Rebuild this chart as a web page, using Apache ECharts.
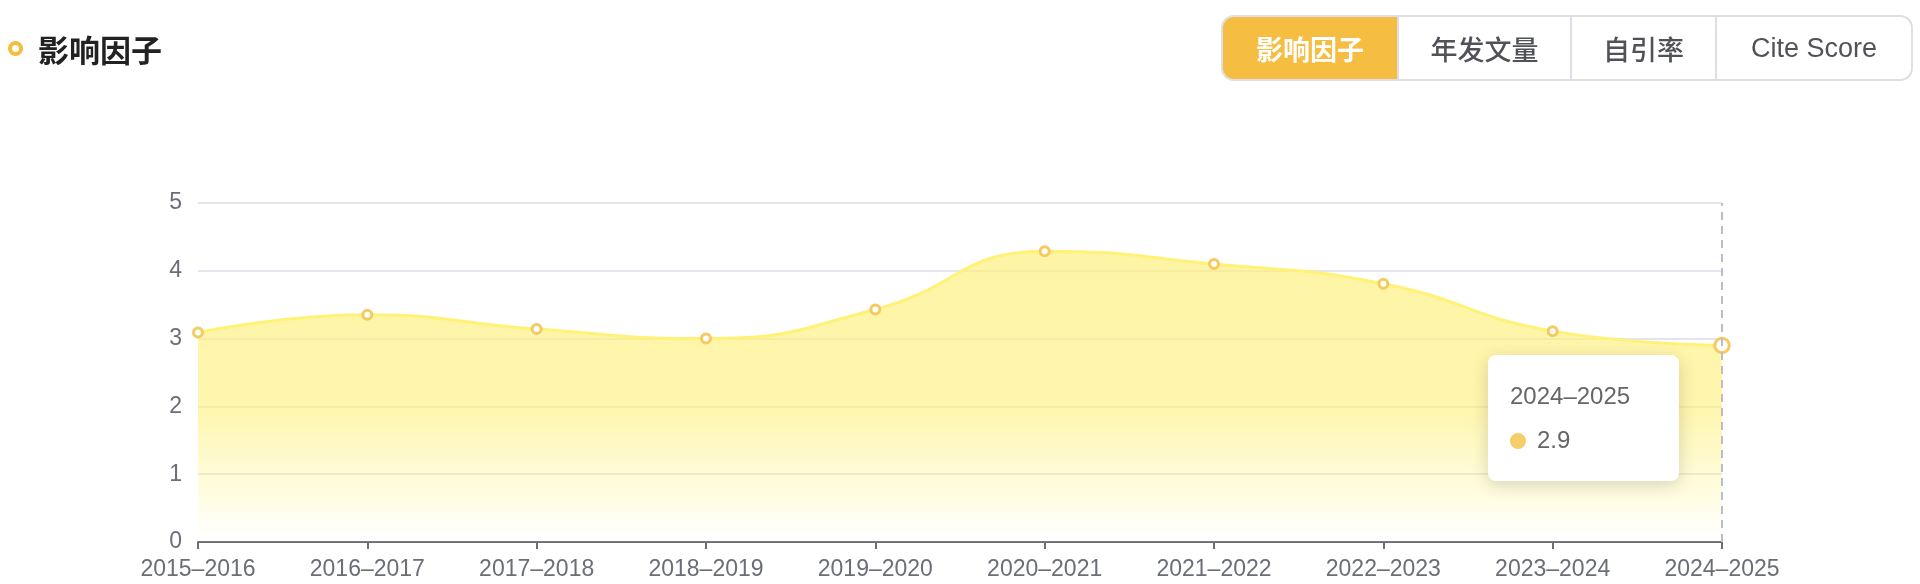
<!DOCTYPE html>
<html>
<head>
<meta charset="utf-8">
<script src="https://cdn.jsdelivr.net/npm/echarts@6/dist/echarts.min.js"></script>
<style>
  html, body { margin: 0; padding: 0; background: #fff; }
  #wrap { position: relative; width: 1920px; height: 584px; overflow: hidden; }
  #chart { position: absolute; left: 0; top: 0; width: 1920px; height: 584px; }
  #title { position: absolute; left: 8px; top: 26px; height: 44px; display: flex; align-items: center;
    font-family: "Noto Sans CJK SC", sans-serif; font-weight: 700; font-size: 31px; color: #222; }
  #title .dot { width: 7px; height: 7px; border: 4px solid #f5bc3e; border-radius: 50%; margin-right: 15px; }
  #tabs { position: absolute; left: 1221px; top: 15px; height: 66px; display: flex;
    border: 2px solid #dedee6; border-radius: 13px; overflow: hidden; box-sizing: border-box; }
  #tabs div { display: flex; align-items: center; justify-content: center; font-size: 27px; color: #505258;
    font-family: "Noto Sans CJK SC", sans-serif; font-weight: 500; border-left: 2px solid #dedee6; box-sizing: border-box; }
  #tabs div.en { font-family: "Liberation Sans", Arial, sans-serif; font-size: 27px; }
  #tabs div:first-child { border-left: none; background: #f5bd42; color: #fff; font-weight: 700; }
</style>
</head>
<body>
<div id="wrap">
  <div id="chart"></div>
  <div id="title"><span class="dot"></span>影响因子</div>
  <div id="tabs">
    <div style="width:174px">影响因子</div>
    <div style="width:173px">年发文量</div>
    <div style="width:145px">自引率</div>
    <div class="en" style="width:196px">Cite Score</div>
  </div>
</div>
<script>
const categories = ['2015–2016','2016–2017','2017–2018','2018–2019','2019–2020','2020–2021','2021–2022','2022–2023','2023–2024','2024–2025'];
const impactFactor = [3.09, 3.35, 3.14, 3.0, 3.43, 4.29, 4.1, 3.81, 3.11, 2.9];
const yTicks = { min: 0, max: 5, interval: 1 };

const chart = echarts.init(document.getElementById('chart'));
chart.setOption({
  animation: false,
  grid: { left: 198, right: 198, top: 203, bottom: 42, containLabel: false },
  tooltip: {
    trigger: 'axis',
    alwaysShowContent: true,
    backgroundColor: '#fff',
    borderWidth: 0,
    padding: [24, 22, 24, 22],
    extraCssText: 'border-radius:8px;box-shadow:0 4px 18px rgba(0,0,0,0.16);width:147px;',
    textStyle: { color: '#666', fontSize: 24 },
    axisPointer: { type: 'line', lineStyle: { color: '#b9bdcc', width: 2, type: [8, 6] } },
    position: function (pt) { return [pt[0] - 234, pt[1] + 10]; },
    formatter: function (params) {
      const p = params[0];
      return '<div style="font-family:Liberation Sans,Arial,sans-serif;font-size:24px;color:#666;line-height:34px">' + p.name +
        '</div><div style="font-family:Liberation Sans,Arial,sans-serif;font-size:24px;color:#666;line-height:34px;margin-top:10px">' +
        '<span style="display:inline-block;width:16px;height:16px;border-radius:50%;background:#f5cd6a;margin-right:11px;vertical-align:-1px"></span>' +
        p.value + '</div>';
    }
  },
  xAxis: {
    type: 'category',
    data: categories,
    boundaryGap: false,
    axisLine: { lineStyle: { color: '#6b6e76', width: 2 } },
    axisTick: { show: true, alignWithLabel: true, length: 7, lineStyle: { color: '#6b6e76', width: 2 } },
    axisLabel: { color: '#6b6e76', fontSize: 23, margin: 16, fontFamily: 'Liberation Sans, Arial, sans-serif' },
    splitLine: { show: false }
  },
  yAxis: {
    type: 'value',
    min: yTicks.min, max: yTicks.max, interval: yTicks.interval,
    axisLine: { show: false },
    axisTick: { show: false },
    axisLabel: { color: '#6b6e76', fontSize: 23, margin: 16, fontFamily: 'Liberation Sans, Arial, sans-serif' },
    splitLine: { lineStyle: { color: '#e2e4ee', width: 2 } }
  },
  series: [{
    type: 'line',
    data: impactFactor,
    smooth: true,
    symbol: 'circle',
    symbolSize: 9,
    itemStyle: { color: '#fff', borderColor: '#f5ca60', borderWidth: 3 },
    lineStyle: { color: '#f8dc6c', width: 3 },
    areaStyle: {
      opacity: 1,
      color: new echarts.graphic.LinearGradient(0, 0, 0, 1, [
        { offset: 0, color: 'rgba(245,219,115,0.7)' },
        { offset: 0.55, color: 'rgba(245,219,115,0.62)' },
        { offset: 0.85, color: 'rgba(248,226,140,0.28)' },
        { offset: 1, color: 'rgba(255,246,215,0.08)' }
      ])
    },
    emphasis: { scale: 1.6, itemStyle: { color: '#fff', borderColor: '#f5ca60', borderWidth: 3 } },
    z: 3
  }]
});
chart.dispatchAction({ type: 'showTip', seriesIndex: 0, dataIndex: categories.length - 1 });
</script>
</body>
</html>
